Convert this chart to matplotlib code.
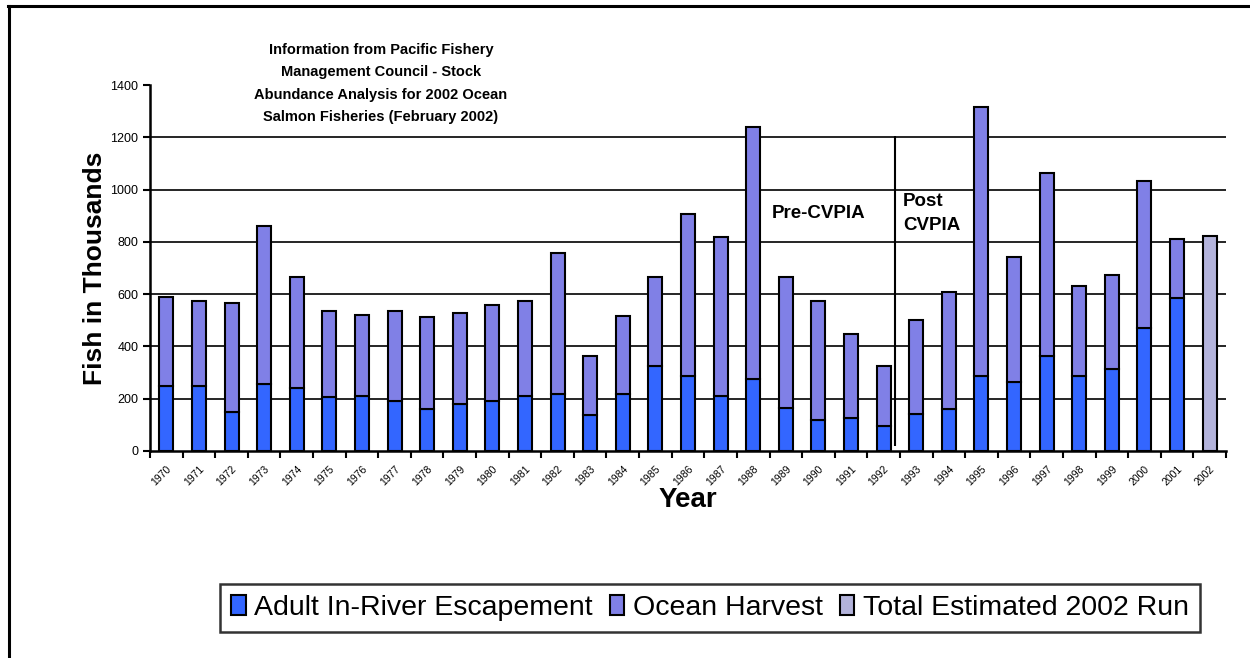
import numpy as np
import matplotlib
matplotlib.use("Agg")
import matplotlib.pyplot as plt
from matplotlib.lines import Line2D
from matplotlib.transforms import ScaledTranslation

plt.rcParams['font.family'] = ['Liberation Sans', 'DejaVu Sans']

# values (thousands of fish)
years = [str(y) for y in range(1970, 2003)]
escapement = [250, 250, 150, 258, 242, 205, 212, 190, 159, 181, 190,
              211, 218, 136, 218, 326, 288, 211, 274, 166, 120, 128,
              97, 143, 159, 288, 265, 365, 288, 312, 472, 587]
harvest = [340, 323, 415, 601, 423, 331, 308, 346, 354, 347, 368,
           361, 538, 229, 300, 338, 620, 608, 966, 498, 452, 321,
           229, 360, 451, 1029, 477, 699, 345, 361, 561, 224]
run_2002 = [822]

c_esc = '#3366FF'
c_harv = '#8080E6'
c_run = '#B3B3DB'

fig = plt.figure(figsize=(12.5, 6.58), dpi=100)
ax = fig.add_axes([0.12, 0.3146, 0.8608, 0.5562])

x = np.arange(len(years))
n = len(escapement)
w = 0.43
ax.bar(x[:n], escapement, w, color=c_esc, edgecolor='black', linewidth=1.5,
       label='Adult In-River Escapement', zorder=3)
ax.bar(x[:n], harvest, w, bottom=escapement, color=c_harv, edgecolor='black',
       linewidth=1.5, label='Ocean Harvest', zorder=3)
ax.bar(x[n:], run_2002, w, color=c_run, edgecolor='black', linewidth=1.5,
       label='Total Estimated 2002 Run', zorder=3)

ax.set_xlim(-0.5, len(years) - 0.5)
ax.set_ylim(0, 1400)
ax.set_yticks(range(0, 1401, 200))
for yv in range(200, 1201, 200):
    ax.axhline(yv, color='black', lw=1.2, zorder=1)

ax.set_xticks(x)
ax.set_xticklabels(years, rotation=45, ha='right', rotation_mode='anchor', fontsize=7.5)
# excel puts the slanted labels a bit left of the bar
shift = ScaledTranslation(-8 / 100, 0, fig.dpi_scale_trans)
for lab in ax.get_xticklabels():
    lab.set_transform(lab.get_transform() + shift)
ax.set_xticks(np.arange(-0.5, len(years)), minor=True)
ax.tick_params(axis='x', which='major', length=0, pad=9)
ax.tick_params(axis='x', which='minor', length=5, width=1.5, direction='out')
ax.tick_params(axis='y', length=5, width=1.5, labelsize=9)

for s in ['top', 'right']:
    ax.spines[s].set_visible(False)
for s in ['left', 'bottom']:
    ax.spines[s].set_linewidth(1.8)

ax.set_ylabel('Fish in Thousands', fontsize=19, fontweight='bold', labelpad=2)
ax.set_xlabel('Year', fontsize=20, fontweight='bold', labelpad=0)

# CVPIA split
ax.vlines(22.35, 20, 1205, color='black', lw=1.5, zorder=4)
ax.text(18.58, 910, 'Pre-CVPIA', fontsize=13.5, fontweight='bold', va='center')
ax.text(22.6, 907, 'Post\nCVPIA', fontsize=13.5, fontweight='bold', va='center',
        linespacing=1.55)

fig.text(0.3048, 0.873, 'Information from Pacific Fishery\nManagement Council - Stock\n'
         'Abundance Analysis for 2002 Ocean\nSalmon Fisheries (February 2002)',
         ha='center', va='center', fontsize=10.5, fontweight='bold', linespacing=1.75)

leg = fig.legend(loc='center', bbox_to_anchor=(0.568, 0.076), ncol=3, fontsize=20.5,
                 frameon=True, fancybox=False, edgecolor='black', handlelength=0.5,
                 handleheight=0.7, handletextpad=0.3, columnspacing=0.6,
                 borderpad=0.4)
leg.get_frame().set_linewidth(1.8)

# outer frame (top and left edges)
fig.add_artist(Line2D([0.0064, 1.0], [0.9905, 0.9905], color='black', lw=2.2))
fig.add_artist(Line2D([0.0068, 0.0068], [0.0, 0.9905], color='black', lw=2.2))

fig.savefig('out.png', dpi=100)
